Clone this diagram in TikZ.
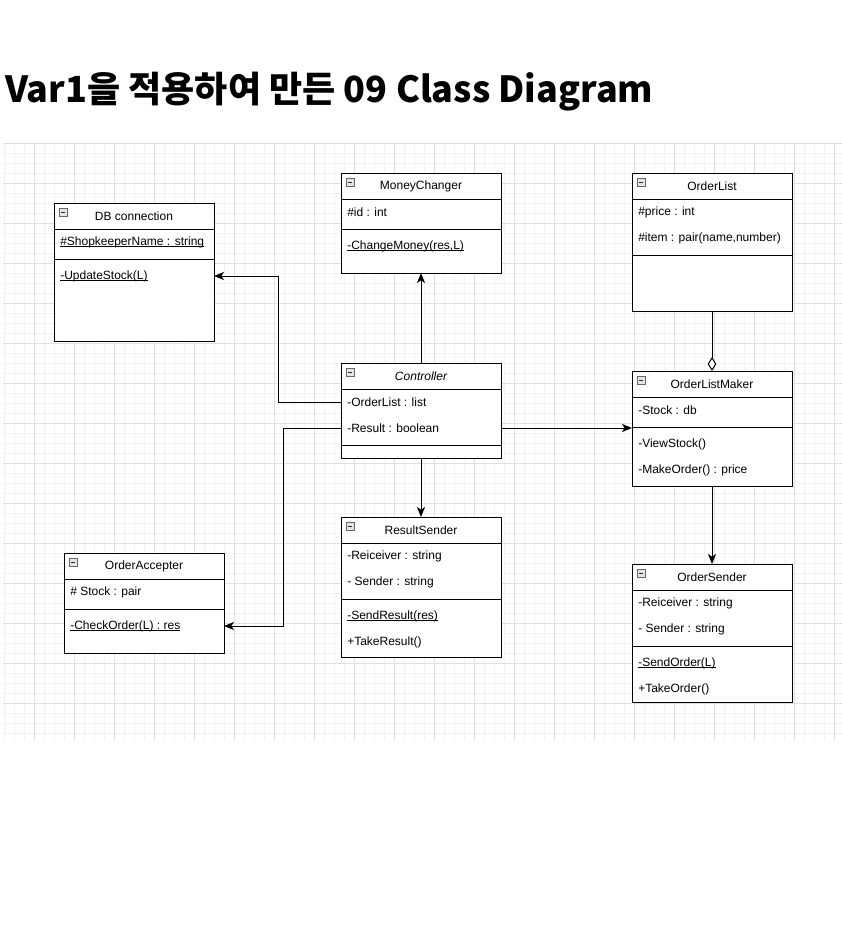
\documentclass[tikz,border=0pt]{standalone}
\usepackage{fontspec}
\setmainfont{Liberation Sans}
\newfontfamily\krfont{Noto Sans CJK KR}
\usetikzlibrary{arrows.meta}
\newcommand\ulx[1]{\setbox0\hbox{#1}\rlap{\rule[-1.3pt]{\wd0}{0.55pt}}\box0}
\newcommand\umlbox[8]{%
  \node[cls, minimum width={(#4-#2)*0.75pt}, minimum height={(#5-#3)*0.75pt}] (#1) at (#2,#3) {};
  \draw[sepl] (#2,#6) -- (#4,#6);
  \draw[sepl] (#2,#7) -- (#4,#7);
  \draw[draw=gray!80!black, fill=gray!20, line width=0.5pt] (#2+5,#3+5) rectangle (#2+13,#3+13);
  \draw[line width=0.5pt, gray!30!black] (#2+7,#3+9) -- (#2+11,#3+9);
  \node[txt] (#1-t) at ({(#2+#4)/2},#3+13) {#8};
}
\begin{document}
\begin{tikzpicture}[x=0.75pt,y=-0.75pt,
  cls/.style={draw=black, line width=0.75pt, anchor=north west, inner sep=0pt, outer sep=0pt, fill=white},
  txt/.style={inner sep=0pt, font=\fontsize{9pt}{11pt}\selectfont},
  row/.style={txt, anchor=west},
  sepl/.style={line width=0.75pt},
  conn/.style={line width=0.75pt, -{Stealth[length=7.5pt,width=6pt,inset=2pt]}},
  minorg/.style={line width=0.5pt, black!5},
  majorg/.style={line width=0.6pt, black!12}]
\useasboundingbox (0,0) rectangle (842,951);
% grid
\foreach \gx in {4,14,...,834} \draw[minorg] (\gx,143) -- (\gx,741);
\foreach \gy in {153,163,...,733} \draw[minorg] (3,\gy) -- (842,\gy);
\foreach \gx in {34,74,...,834} \draw[majorg] (\gx,143) -- (\gx,741);
\foreach \gy in {143,183,...,741} \draw[majorg] (3,\gy) -- (842,\gy);
% title
\node[anchor=base west, inner sep=0pt, font=\krfont\bfseries\fontsize{27pt}{32pt}\selectfont] (title) at (5,102) {Var1을 적용하여 만든 09 Class Diagram};
% classes
\umlbox{db}{54}{203}{214}{341}{229}{259}{DB connection}
\node[row] (db-a1) at (60,242) {\ulx{\#ShopkeeperName : string}};
\node[row] (db-m1) at (60,276) {\ulx{-UpdateStock(L)}};

\umlbox{mc}{341}{173}{501}{273}{199}{229}{MoneyChanger}
\node[row] (mc-a1) at (347,212) {\#id : int};
\node[row] (mc-m1) at (347,246) {\ulx{-ChangeMoney(res,L)}};

\umlbox{ol}{632}{173}{792}{311}{199}{255}{OrderList}
\node[row] (ol-a1) at (638,212) {\#price : int};
\node[row] (ol-a2) at (638,238) {\#item : pair(name,number)};

\umlbox{ctrl}{341}{363}{501}{458}{389}{445}{\itshape Controller}
\node[row] (ctrl-a1) at (347,402) {-OrderList : list};
\node[row] (ctrl-a2) at (347,428) {-Result : boolean};

\umlbox{olm}{632}{371}{792}{486}{397}{427}{OrderListMaker}
\node[row] (olm-a1) at (638,410) {-Stock : db};
\node[row] (olm-m1) at (638,444) {-ViewStock()};
\node[row] (olm-m2) at (638,470) {-MakeOrder() : price};

\umlbox{oa}{64}{553}{224}{653}{579}{609}{OrderAccepter}
\node[row] (oa-a1) at (70,592) {\# Stock : pair};
\node[row] (oa-m1) at (70,626) {\ulx{-CheckOrder(L) : res}};

\umlbox{rs}{341}{517}{501}{657}{543}{599}{ResultSender}
\node[row] (rs-a1) at (347,556) {-Reiceiver : string};
\node[row] (rs-a2) at (347,582) {- Sender : string};
\node[row] (rs-m1) at (347,616) {\ulx{-SendResult(res)}};
\node[row] (rs-m2) at (347,642) {+TakeResult()};

\umlbox{os}{632}{564}{792}{702}{590}{646}{OrderSender}
\node[row] (os-a1) at (638,603) {-Reiceiver : string};
\node[row] (os-a2) at (638,629) {- Sender : string};
\node[row] (os-m1) at (638,663) {\ulx{-SendOrder(L)}};
\node[row] (os-m2) at (638,689) {+TakeOrder()};

% connectors
\draw[conn] (ctrl.west |- ctrl-a1) -- (278,402) -- (278,276) -- (db.east |- db-m1);
\draw[conn] (ctrl.north) -- (mc.south);
\draw[conn] (ctrl.west |- ctrl-a2) -- (283,428) -- (283,626) -- (oa.east |- oa-m1);
\draw[conn] (ctrl.east |- ctrl-a2) -- (olm.west |- ctrl-a2);
\draw[conn] (ctrl.south) -- (rs.north);
\draw[line width=0.75pt, -{Diamond[open, length=10.5pt, width=6.5pt]}] (ol.south) -- (olm.north);
\draw[conn] (olm.south) -- (os.north);
\end{tikzpicture}
\end{document}
